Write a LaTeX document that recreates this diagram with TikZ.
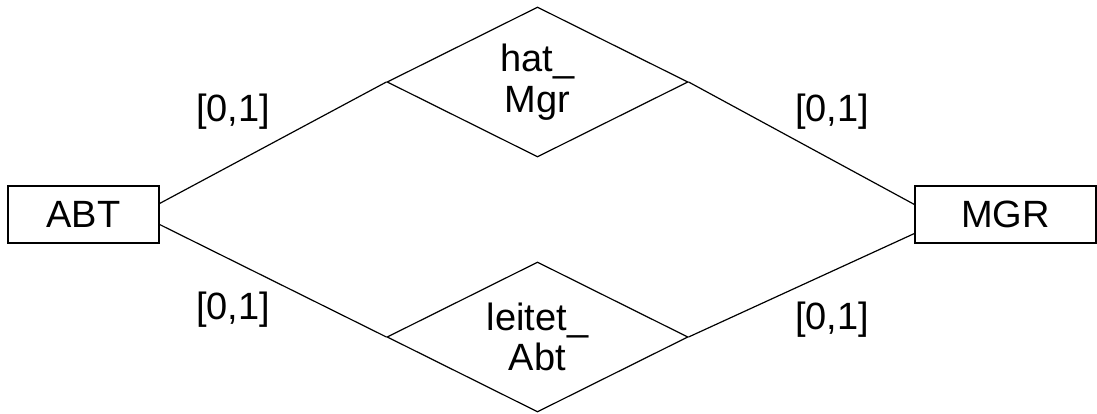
\documentclass[tikz,border=0pt]{standalone}
\usepackage{fontspec}
\setmainfont{Liberation Sans}
\usetikzlibrary{shapes.geometric}
\begin{document}
\begin{tikzpicture}[x=1pt,y=1pt,
  every node/.style={font=\fontsize{38}{40.5}\selectfont},
  entity/.style={draw,line width=1.2pt,minimum width=151pt,minimum height=57pt,inner sep=0pt},
  relation/.style={draw,diamond,aspect=2,line width=1.2pt,minimum width=301pt,minimum height=150pt,inner sep=0pt,align=center},
  conn/.style={line width=1.2pt},
  card/.style={inner sep=0pt}]
\useasboundingbox (0,0) rectangle (1097,414);
\node[entity] (abt) at (83.5,199.5) {ABT};
\node[entity,minimum width=181pt] (mgr) at (1005.5,199.5) {MGR};
\node[relation] (hat) at (537.5,332) {hat\_\\Mgr};
\node[relation] (leitet) at (537.5,77) {leitet\_\\Abt};
\draw[conn] ([yshift=11pt]abt.east) -- (hat.west);
\draw[conn] (hat.east) -- ([yshift=10pt]mgr.west);
\draw[conn] ([yshift=-10pt]abt.east) -- (leitet.west);
\draw[conn] (leitet.east) -- ([yshift=-19pt]mgr.west);
\node[card] (c1) at (233,302) {[0,1]};
\node[card] (c2) at (832,302) {[0,1]};
\node[card] (c3) at (233,104) {[0,1]};
\node[card] (c4) at (832,94) {[0,1]};
\end{tikzpicture}
\end{document}
